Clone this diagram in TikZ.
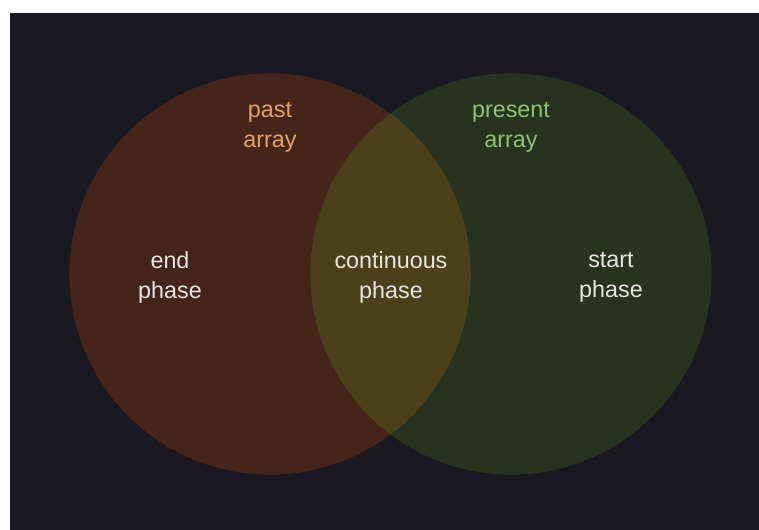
\documentclass[tikz,border=0pt]{standalone}
\usepackage{fontspec}
\setmainfont{Liberation Sans}
\definecolor{bgdark}{HTML}{1A1820}
\definecolor{pastfill}{HTML}{45241A}
\definecolor{presentfill}{HTML}{28331F}
\definecolor{bothfill}{HTML}{4B401A}
\definecolor{pastlabel}{HTML}{E6A062}
\definecolor{presentlabel}{HTML}{8CC46E}
\definecolor{phaselabel}{HTML}{E8E6E2}
\tikzset{
  lbl/.style={align=center, font=\fontsize{17.5}{22.5}\selectfont, inner sep=0pt},
}
\begin{document}
\begin{tikzpicture}[x=0.75pt,y=-0.75pt]
  % canvas and dark panel
  \fill[white] (0,0) rectangle (759,530);
  \useasboundingbox (0,0) rectangle (759,530);
  \fill[bgdark] (10,13) rectangle (759,530);
  % the two sets
  \coordinate (pc) at (270,274);
  \coordinate (nc) at (511,274);
  \fill[pastfill] (pc) circle[radius=150.5pt];
  \fill[presentfill] (nc) circle[radius=150.5pt];
  \begin{scope}
    \clip (pc) circle[radius=150.5pt];
    \fill[bothfill] (nc) circle[radius=150.5pt];
  \end{scope}
  % labels
  \node[lbl, text=pastlabel] (past) at (270,127.5) {past\\array};
  \node[lbl, text=presentlabel] (present) at (511,127.5) {present\\array};
  \node[lbl, text=phaselabel] (endp) at (170,277.5) {end\\phase};
  \node[lbl, text=phaselabel] (cont) at (391,277.5) {continuous\\phase};
  \node[lbl, text=phaselabel] (startp) at (611,277.5) {start\\phase};
\end{tikzpicture}
\end{document}
